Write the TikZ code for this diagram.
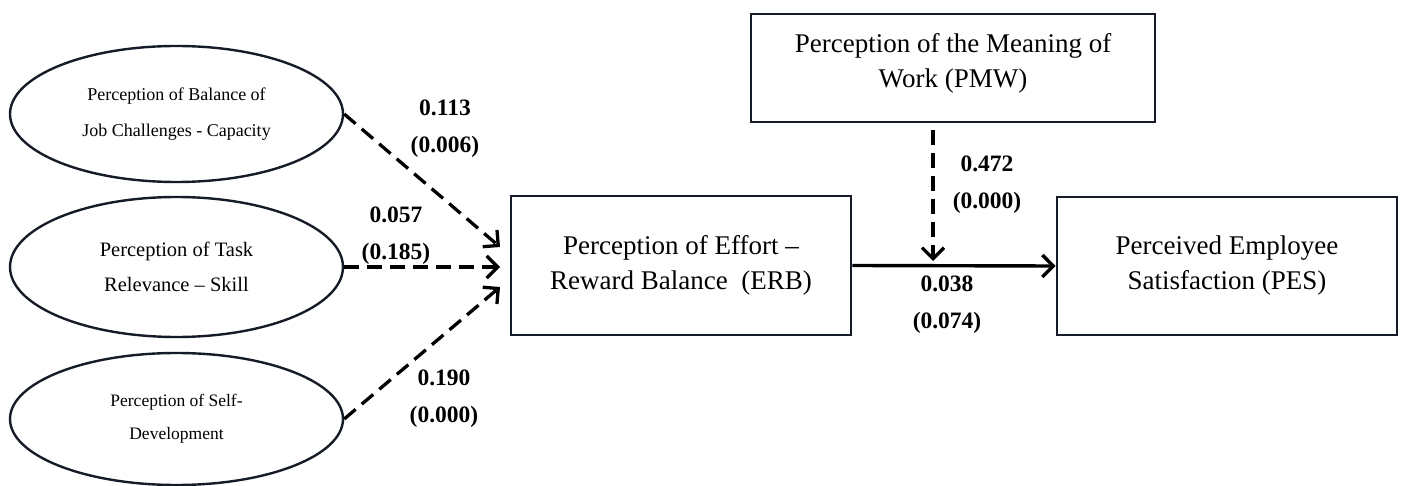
\documentclass[tikz,border=0pt]{standalone}
\usepackage{fontspec}
\setmainfont{Liberation Serif}
\usetikzlibrary{arrows.meta,shapes.geometric}
\definecolor{edgecol}{RGB}{22,27,40}
\begin{document}
\begin{tikzpicture}[x=1pt,y=-1pt,
  ell/.style={draw=edgecol, line width=2.4pt, ellipse, minimum width=333pt, minimum height=136pt, inner sep=0pt, align=center},
  boxn/.style={draw=edgecol, line width=2.6pt, rectangle, inner sep=0pt, align=center, font=\fontsize{27}{35}\selectfont},
  dasharrow/.style={line width=3.3pt, dash pattern=on 15pt off 8pt, -{Straight Barb[length=11pt,width=22pt]}},
  solidarrow/.style={line width=3.4pt, -{Straight Barb[length=11pt,width=22pt]}},
  lab/.style={font=\fontsize{23.5}{37}\selectfont\bfseries, align=center}]
\useasboundingbox (0,0) rectangle (1402,486);

% ellipses
\node[ell, font=\fontsize{18}{36}\selectfont] (e1) at (176.5,114) {Perception of Balance of\\Job Challenges - Capacity};
\node[ell, font=\fontsize{20.5}{35}\selectfont, minimum height=140pt] (e2) at (176.5,267) {Perception of Task\\Relevance -- Skill};
\node[ell, font=\fontsize{17.5}{33}\selectfont, minimum height=132pt] (e3) at (176.5,419) {Perception of Self-\\Development};

% boxes
\node[boxn, minimum width=340pt, minimum height=139pt] (erb) at (681,265.5) {Perception of Effort --\\Reward Balance~~(ERB)};
\node[boxn, minimum width=340pt, minimum height=138pt] (pes) at (1227,266) {Perceived Employee\\Satisfaction (PES)};
\node[boxn, minimum width=404pt, minimum height=108pt] (pmw) at (953,68) {Perception of the Meaning of\\Work (PMW)\vphantom{g}\\[-20pt]};

% arrow end points
\coordinate (t1) at (500,247);
\coordinate (t2) at (500,267);
\coordinate (t3) at (500,287);
\coordinate (v1) at (933,130);
\coordinate (v2) at (933,261);

\draw[dasharrow] (e1.east) -- (t1);
\draw[dasharrow] (e2.east) -- (t2);
\draw[dasharrow] (e3.east) -- (t3);
\draw[dasharrow] (v1) -- (v2);
\draw[solidarrow] (erb.east) -- (pes.west);

% labels
\node[lab] (l1) at (445,128.5) {0.113\\(0.006)};
\node[lab] (l2) at (396,235.5) {0.057\\(0.185)};
\node[lab] (l3) at (444,398.5) {0.190\\(0.000)};
\node[lab] (l4) at (987,184.5) {0.472\\(0.000)};
\node[lab] (l5) at (947,304.5) {0.038\\(0.074)};
\end{tikzpicture}
\end{document}
